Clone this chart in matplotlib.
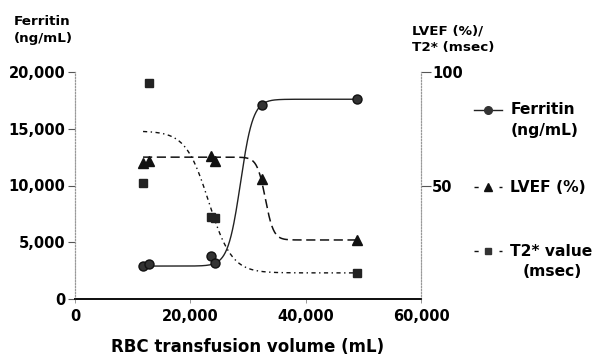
import numpy as np
import matplotlib
matplotlib.use("Agg")
import matplotlib.pyplot as plt

plt.rcParams["font.family"] = ["DejaVu Sans"]

# RBC transfusion volume (mL) at each measurement
volume = [11800, 12800, 23500, 24300, 32400, 48900]
ferritin = [2900, 3050, 3800, 3150, 17100, 17600]      # ng/mL, left axis
lvef = [60, 61, 63, 61, 53, 26]                          # %, right axis
t2_volume = [11800, 12800, 23500, 24300, 48900]
t2star = [51, 95, 36, 35.5, 11.5]                        # msec, right axis

# sigmoid fits: (low, high, midpoint mL, slope per mL)
fit_ferritin = (2900, 17600, 28700, 0.00092)
fit_lvef = (62.5, 26, 33000, 0.0014)
fit_t2 = (74, 11.5, 23200, 0.0005)

x_ticks = [0, 20000, 40000, 60000]
left_ticks = [0, 5000, 10000, 15000, 20000]
right_ticks = [50, 100]

C_DARK = "#222222"


def sigmoid(x, fit):
    a, b, mid, k = fit
    return a + (b - a) / (1 + np.exp(-k * (x - mid)))


fig = plt.figure(figsize=(5.96, 3.58), dpi=100)
ax = fig.add_axes([75 / 596, 1 - 299 / 358, 346 / 596, 227 / 358])
ax2 = ax.twinx()

xs = np.linspace(volume[0], volume[-1], 300)
ax.plot(xs, sigmoid(xs, fit_ferritin), color=C_DARK, lw=1.0)
ax.plot(volume, ferritin, "o", color="#333333", ms=6.5, mec="#111111")

ax2.plot(xs, sigmoid(xs, fit_lvef), color="#111111", lw=1.1,
         dashes=(6, 3))
ax2.plot(volume, lvef, "^", color="#111111", ms=7)
ax2.plot(xs, sigmoid(xs, fit_t2), color="#111111", lw=1.0,
         dashes=(3, 2.5, 1, 2.5))
ax2.plot(t2_volume, t2star, "s", color="#222222", ms=6)

ax.set_xlim(0, 60000)
ax.set_ylim(0, 20000)
ax2.set_ylim(0, 100)

ax.set_xticks(x_ticks)
ax.set_xticklabels([f"{v:,}" for v in x_ticks])
ax.set_yticks(left_ticks)
ax.set_yticklabels([f"{v:,}" for v in left_ticks])
ax2.set_yticks(right_ticks)
ax2.set_yticklabels([str(v) for v in right_ticks])

for lab in ax.get_xticklabels() + ax.get_yticklabels() + ax2.get_yticklabels():
    lab.set_fontsize(10.5)
    lab.set_fontweight("bold")
ax.tick_params(axis="y", length=5, width=0.8, pad=2, color="#555555")
ax.tick_params(axis="x", length=3, width=0.6, pad=4, color="#888888")
ax2.tick_params(axis="y", length=7, width=0.8, pad=1, color="#555555")

for a in (ax, ax2):
    a.spines["top"].set_visible(False)
    a.spines["left"].set_linestyle(":")
    a.spines["left"].set_color("#999999")
    a.spines["right"].set_linestyle(":")
    a.spines["right"].set_color("#999999")
    a.spines["bottom"].set_color("#111111")
    a.spines["bottom"].set_linewidth(1.3)
    a.patch.set_visible(False)

ax.set_xlabel("RBC transfusion volume (mL)", fontsize=12, fontweight="bold",
              labelpad=10)

fig.text(14 / 596, 1 - 30 / 358, "Ferritin\n(ng/mL)", fontsize=9.7,
         fontweight="bold", va="center", ha="left", linespacing=1.35)
fig.text(412 / 596, 1 - 39 / 358, "LVEF (%)/\nT2* (msec)", fontsize=9.7,
         fontweight="bold", va="center", ha="left", linespacing=1.35)

# hand-placed legend in pixel coordinates
lax = fig.add_axes([0, 0, 1, 1])
lax.set_xlim(0, 596)
lax.set_ylim(358, 0)
lax.axis("off")
lax.plot([474, 502], [110, 110], color=C_DARK, lw=1.0)
lax.plot([488], [110], "o", color="#333333", ms=5.5)
lax.plot([474, 502], [187, 187], color="#111111", lw=1.0, dashes=(3, 6))
lax.plot([488], [187], "^", color="#111111", ms=5.5)
lax.plot([474, 502], [251, 251], color="#111111", lw=1.0, dashes=(3, 6))
lax.plot([488], [251], "s", color="#333333", ms=5)
leg_font = dict(fontsize=11.2, fontweight="bold", va="center", ha="left")
lax.text(511, 110, "Ferritin", **leg_font)
lax.text(511, 130, "(ng/mL)", **leg_font)
lax.text(510, 187, "LVEF (%)", **leg_font)
lax.text(510, 251, "T2* value", **leg_font)
lax.text(523, 272, "(msec)", **leg_font)

fig.savefig("out.png", dpi=100)
